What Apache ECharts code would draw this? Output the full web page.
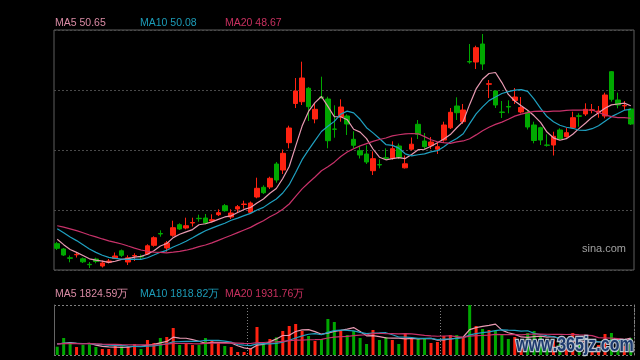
<!DOCTYPE html>
<html><head><meta charset="utf-8">
<script src="https://cdn.jsdelivr.net/npm/echarts@6/dist/echarts.min.js"></script>
<style>html,body{margin:0;padding:0;background:#000}#c{width:640px;height:360px}</style>
</head><body><div id="c"></div>
<script>
// ---- data (price units arbitrary; axis labels are hidden in the reference) ----
const categories = [];
for (let i = 1; i <= 90; i++) categories.push('D' + i);

const prevCloses = [34.4,34.6,35.0,35.2,34.9,34.7,34.8,34.6,34.7,34.5,35.4,35.5,35.1,35.0,34.8,34.2,33.6,33.0,32.4];

const opens = [32.63,32.10,31.22,31.52,31.12,30.57,31.10,30.40,30.77,31.15,
31.92,30.80,31.40,31.35,31.60,32.47,33.65,32.20,33.47,34.53,
34.20,34.70,35.17,35.20,34.90,35.53,36.43,35.30,36.10,36.55,
35.77,37.30,38.27,38.30,40.60,40.00,42.73,46.65,46.83,48.17,
45.10,47.30,47.10,44.10,45.30,45.40,43.07,41.93,41.60,39.93,
40.55,41.23,41.17,42.40,40.22,42.08,44.57,42.90,42.43,42.08,
43.00,44.22,46.40,44.83,50.85,50.80,52.60,48.57,47.90,45.80,
46.35,46.95,45.80,45.77,44.50,44.23,42.50,42.50,44.00,43.33,
44.23,45.42,45.60,45.97,45.75,45.40,49.83,47.00,46.41,46.10];

const closes = [32.17,31.50,31.17,31.56,30.82,30.53,30.85,30.70,30.90,31.40,
31.47,31.22,31.45,31.30,32.42,33.23,33.60,32.70,34.23,34.10,
34.43,34.75,35.13,34.70,35.03,35.73,35.93,35.70,36.33,36.60,
36.70,38.17,37.73,39.17,39.00,41.67,44.20,47.90,49.20,46.33,
46.07,47.25,42.93,44.07,46.30,44.60,42.47,41.50,40.80,41.13,
40.50,41.17,42.13,41.27,40.62,42.58,43.57,42.33,42.80,42.33,
44.50,45.77,45.73,46.00,50.80,52.23,50.60,48.63,46.50,45.76,
46.30,47.30,46.25,44.30,42.95,43.00,42.47,43.37,43.10,43.73,
45.23,45.37,46.07,46.02,45.90,47.50,47.07,46.50,46.45,44.60];

const lows = [32.00,31.40,30.77,31.25,30.70,30.20,30.67,30.25,30.65,31.10,
31.30,30.50,30.90,31.05,31.50,32.33,33.33,31.83,33.33,34.00,
34.07,34.35,34.83,34.57,34.75,35.40,35.83,35.10,35.80,36.13,
35.65,37.17,37.60,38.10,38.73,39.60,42.17,46.20,46.50,44.90,
44.67,47.10,42.17,43.23,44.83,43.50,42.20,41.15,40.60,39.50,
40.17,41.00,41.03,41.10,40.15,41.95,43.10,42.05,42.10,41.60,
42.83,44.10,45.00,44.60,50.63,50.10,50.00,47.20,46.20,45.20,
45.67,46.60,45.67,44.05,42.67,42.50,42.33,41.45,43.00,43.23,
44.17,44.33,45.40,45.67,45.23,45.17,46.83,46.17,46.00,44.50];

const highs = [32.80,32.20,31.45,31.80,31.25,30.80,31.23,30.95,31.10,31.75,
32.05,31.47,31.67,31.55,32.57,33.37,33.97,32.90,34.93,34.67,
35.23,35.23,35.53,35.60,35.57,36.07,36.60,36.07,36.50,36.93,
36.85,39.23,38.47,39.33,40.80,42.05,44.43,49.20,50.83,48.30,
46.63,49.33,47.33,46.47,47.07,45.57,43.87,42.37,42.47,41.87,
41.07,42.17,42.87,42.65,41.45,43.25,45.00,43.70,43.30,42.75,
44.83,46.20,47.27,46.60,52.60,52.43,53.60,49.00,48.00,46.90,
46.97,48.20,47.30,46.00,44.83,44.33,43.57,43.83,44.17,44.23,
45.83,45.67,46.67,46.60,46.40,47.73,49.90,47.73,46.90,46.17];

// volumes in 万
const prevVolumes = [1100,1300,1000,1200,900,1150,1250,1000,1100,1300,1050,1200,950,1150,1100,1400,1000,1200,1150];
const volumes = [830,1700,1300,800,1000,1070,800,600,600,900,
870,900,1100,600,1500,1200,1700,1800,2700,1000,
1170,1000,1000,1700,1400,1230,900,800,300,300,
700,2800,1170,1600,1770,2400,2900,3100,2400,1900,
1400,1600,3600,3300,2400,2000,2400,1700,1100,2500,
1500,1800,1500,1100,2200,1700,1600,1600,1200,1300,
1900,2000,2000,1800,5000,2900,2600,2500,2430,2000,
1600,1800,1200,2200,2400,1800,1300,1500,1100,1000,
2200,1100,1300,900,1000,2100,2200,1500,900,1700];

const priceLabels = ['MA5 50.65', 'MA10 50.08', 'MA20 48.67'];
const volumeLabels = ['MA5 1824.59万', 'MA10 1818.82万', 'MA20 1931.76万'];

// ---- styling ----
const UP = '#ff2211', DOWN = '#00a800';
const MA_COLORS = ['#e89ab2', '#1fa0c0', '#c8326a'];
const LABEL_COLORS = ['#d98aa4', '#1c9cb8', '#c8305f'];
const FONT = '10.5px "Liberation Sans", Arial, sans-serif';

function movingAvg(values, prev, n) {
  const all = prev.concat(values);
  const off = prev.length;
  return values.map((_, i) => {
    let s = 0;
    for (let k = off + i - n + 1; k <= off + i; k++) s += all[k];
    return +(s / n).toFixed(3);
  });
}

const kData = opens.map((o, i) => [o, closes[i], lows[i], highs[i]]);
const volData = volumes.map((v, i) => ({
  value: v,
  itemStyle: { color: closes[i] >= opens[i] ? UP : DOWN }
}));

const periods = [5, 10, 20];
const priceMA = periods.map(n => movingAvg(closes, prevCloses, n));
const volMA = periods.map(n => movingAvg(volumes, prevVolumes, n));

const hidden = { axisLine: { show: false }, axisTick: { show: false }, axisLabel: { show: false } };

const series = [{
  type: 'candlestick', xAxisIndex: 0, yAxisIndex: 0, data: kData, barWidth: 5,
  itemStyle: { color: UP, color0: DOWN, borderColor: UP, borderColor0: DOWN, borderWidth: 1 }
}];
periods.forEach((n, k) => series.push({
  type: 'line', xAxisIndex: 0, yAxisIndex: 0, data: priceMA[k], symbol: 'none',
  lineStyle: { color: MA_COLORS[k], width: 1.2 }
}));
series.push({ type: 'bar', xAxisIndex: 1, yAxisIndex: 1, data: volData, barWidth: 3 });
periods.forEach((n, k) => series.push({
  type: 'line', xAxisIndex: 1, yAxisIndex: 1, data: volMA[k], symbol: 'none',
  lineStyle: { color: MA_COLORS[k], width: 1.2 }
}));

const graphic = [];
const labelX = [55, 140, 225];
priceLabels.forEach((t, k) => graphic.push({ type: 'text', left: labelX[k], top: 18,
  style: { text: t, fill: LABEL_COLORS[k], font: FONT } }));
volumeLabels.forEach((t, k) => graphic.push({ type: 'text', left: labelX[k], top: 289,
  style: { text: t, fill: LABEL_COLORS[k], font: FONT } }));
graphic.push({ type: 'text', left: 582, top: 243,
  style: { text: 'sina.com', fill: '#a0a0a0', font: '11px "Liberation Sans", Arial, sans-serif' } });
graphic.push({ type: 'text', left: 515, top: 334, z: 100, scaleY: 1.3,
  style: { text: 'www.365jz.com', fill: '#1d3a6e', stroke: '#b8c2ce', lineWidth: 2,
    font: 'bold 16px "Liberation Sans", Arial, sans-serif' } });

const chart = echarts.init(document.getElementById('c'), null, { renderer: 'canvas' });
chart.setOption({
  backgroundColor: '#000',
  animation: false,
  grid: [
    { left: 54, top: 30, width: 580, height: 240, show: true, borderColor: '#5e5e5e', borderWidth: 1, backgroundColor: 'transparent' },
    { left: 54, top: 305, width: 580, height: 50 }
  ],
  xAxis: [
    Object.assign({ type: 'category', gridIndex: 0, data: categories, boundaryGap: true, splitLine: { show: false } }, hidden),
    Object.assign({ type: 'category', gridIndex: 1, data: categories, boundaryGap: true,
      splitLine: { show: true, interval: (i) => i > 0 && i % 30 === 0, lineStyle: { color: '#808080', type: [1, 2] } } }, hidden)
  ],
  yAxis: [
    Object.assign({ type: 'value', gridIndex: 0, min: 30, max: 54, interval: 6, scale: false,
      splitLine: { show: true, lineStyle: { color: '#4a4a4a', type: [2, 2] } } }, hidden),
    { type: 'value', gridIndex: 1, min: 0, max: 5000, interval: 5000,
      axisLine: { show: true, lineStyle: { color: '#666' } }, axisTick: { show: false }, axisLabel: { show: false },
      splitLine: { show: true, lineStyle: { color: '#808080', type: [2, 2] } } },
    { type: 'value', gridIndex: 1, position: 'right', min: 0, max: 5000, interval: 5000,
      axisLine: { show: true, lineStyle: { color: '#808080', type: [2, 2] } }, axisTick: { show: false }, axisLabel: { show: false },
      splitLine: { show: false } }
  ],
  series: series,
  graphic: graphic
});
</script>
</body></html>
